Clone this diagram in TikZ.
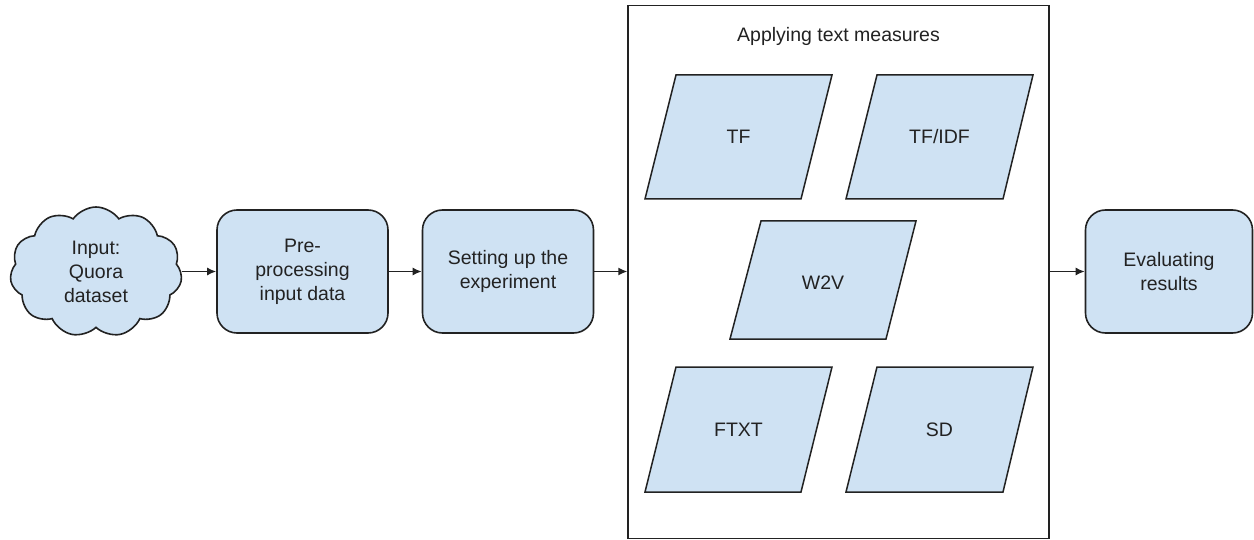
\documentclass[tikz,border=0pt]{standalone}
\usepackage{fontspec}
\setmainfont{Liberation Sans}
\usetikzlibrary{shapes.symbols,arrows.meta}
\definecolor{boxfill}{HTML}{CFE2F3}
\definecolor{ink}{HTML}{222222}
\tikzset{
  flowbox/.style={draw=ink, line width=1.6pt, fill=boxfill, rounded corners=20pt,
    minimum width=171pt, minimum height=123pt, align=center, text=ink,
    font=\fontsize{19.5}{24}\selectfont, inner sep=0pt},
  cloudnode/.style={draw=ink, line width=1.6pt, fill=boxfill, cloud, cloud puffs=11,
    cloud puff arc=110, aspect=1.3, minimum width=172pt, minimum height=130pt,
    align=center, text=ink, font=\fontsize{19.5}{24}\selectfont, inner sep=0pt},
  paragram/.style={draw=ink, line width=1.5pt, fill=boxfill},
  lbl/.style={text=ink, font=\fontsize{19.5}{24}\selectfont, align=center, inner sep=0pt},
  conn/.style={draw=ink, line width=1.5pt, -{Latex[length=9pt,width=8pt]}},
}
\begin{document}
\begin{tikzpicture}[x=1pt,y=-1pt]
\useasboundingbox (0,0) rectangle (1254,540);
% cloud
\node[cloudnode] (input) at (96,272) {Input:\\Quora\\dataset};
% boxes
\node[flowbox] (pre) at (302.5,271.5) {Pre-\\processing\\input data};
\node[flowbox] (setup) at (508,271.5) {Setting up the\\experiment};
\node[draw=ink, line width=1.3pt, minimum width=421pt, minimum height=533pt, inner sep=0pt] (measures) at (838.5,272) {};
\node[lbl] (title) at (838.5,36) {Applying text measures};
\node[flowbox, minimum width=167pt] (eval) at (1169,271.5) {Evaluating\\results};
% parallelograms
\draw[paragram] (676,75) -- (832,75) -- (801,199) -- (645,199) -- cycle;
\node[lbl] (tf) at (738.5,137) {TF};
\draw[paragram] (877,75) -- (1033,75) -- (1003,199) -- (846,199) -- cycle;
\node[lbl] (tfidf) at (939.5,137) {TF/IDF};
\draw[paragram] (761,221) -- (916,221) -- (886,339) -- (730,339) -- cycle;
\node[lbl] (w2v) at (823,283) {W2V};
\draw[paragram] (676,367) -- (832,367) -- (801,492) -- (645,492) -- cycle;
\node[lbl] (ftxt) at (738.5,430) {FTXT};
\draw[paragram] (877,367) -- (1033,367) -- (1003,492) -- (846,492) -- cycle;
\node[lbl] (sd) at (939.5,430) {SD};
% connectors
\draw[conn] (input.east |- pre.west) -- (pre.west);
\draw[conn] (pre.east) -- (setup.west);
\draw[conn] (setup.east) -- (measures.west |- setup.east);
\draw[conn] (measures.east |- eval.west) -- (eval.west);
\end{tikzpicture}
\end{document}
